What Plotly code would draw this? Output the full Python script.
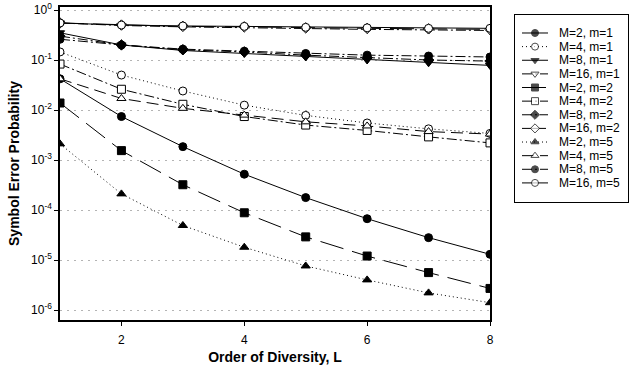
import plotly.graph_objects as go

# Order of diversity L
L = [1, 2, 3, 4, 5, 6, 7, 8]

# Symbol error probability for each (M, m) pair
ser_M2_m1 = [4.2e-2, 7.4e-3, 1.85e-3, 5.2e-4, 1.77e-4, 6.7e-5, 2.8e-5, 1.3e-5]
ser_M4_m1 = [0.145, 0.050, 0.024, 0.0125, 0.0078, 0.0055, 0.0042, 0.0034]
ser_M8_m1 = [0.35, 0.20, 0.155, 0.135, 0.115, 0.100, 0.088, 0.078]
ser_M16_m1 = [0.55, 0.49, 0.46, 0.44, 0.42, 0.41, 0.40, 0.39]
ser_M2_m2 = [1.38e-2, 1.54e-3, 3.2e-4, 8.8e-5, 2.9e-5, 1.2e-5, 5.6e-6, 2.7e-6]
ser_M4_m2 = [0.083, 0.026, 0.013, 0.0074, 0.0050, 0.0039, 0.0029, 0.0022]
ser_M8_m2 = [0.30, 0.20, 0.160, 0.145, 0.125, 0.112, 0.100, 0.095]
ser_M16_m2 = [0.55, 0.50, 0.47, 0.46, 0.44, 0.43, 0.42, 0.41]
ser_M2_m5 = [2.1e-3, 2.1e-4, 4.9e-5, 1.8e-5, 7.6e-6, 4.0e-6, 2.2e-6, 1.4e-6]
ser_M4_m5 = [0.042, 0.017, 0.0108, 0.0079, 0.0058, 0.0048, 0.0037, 0.0033]
ser_M8_m5 = [0.26, 0.20, 0.165, 0.150, 0.135, 0.125, 0.120, 0.115]
ser_M16_m5 = [0.55, 0.50, 0.48, 0.47, 0.45, 0.44, 0.43, 0.43]

names = ["M=2, m=1", "M=4, m=1", "M=8, m=1", "M=16, m=1",
         "M=2, m=2", "M=4, m=2", "M=8, m=2", "M=16, m=2",
         "M=2, m=5", "M=4, m=5", "M=8, m=5", "M=16, m=5"]
series = [ser_M2_m1, ser_M4_m1, ser_M8_m1, ser_M16_m1,
          ser_M2_m2, ser_M4_m2, ser_M8_m2, ser_M16_m2,
          ser_M2_m5, ser_M4_m5, ser_M8_m5, ser_M16_m5]

y_tickvals = [1e-6, 1e-5, 1e-4, 1e-3, 1e-2, 1e-1, 1e0]
y_ticktext = ["10<sup>-6</sup>", "10<sup>-5</sup>", "10<sup>-4</sup>", "10<sup>-3</sup>",
              "10<sup>-2</sup>", "10<sup>-1</sup>", "10<sup>0</sup>"]
x_tickvals = [2, 4, 6, 8]

DOT = "1px,3px"
DASHDOT = "10px,3px,2px,3px"
LONGDASH = "24px,9px"
DASH = "12px,6px"

# (symbol, filled, dash) for each series
styles = [
    ("circle", True, "solid"),
    ("circle", False, DOT),
    ("triangle-down", True, "solid"),
    ("triangle-down", False, DASHDOT),
    ("square", True, LONGDASH),
    ("square", False, DASHDOT),
    ("diamond", True, DASHDOT),
    ("diamond", False, LONGDASH),
    ("triangle-up", True, DOT),
    ("triangle-up", False, DASH),
    ("circle", True, DASHDOT),
    ("circle", False, "solid"),
]

FONT = "Liberation Sans, Arial, sans-serif"
W, H = 629, 373

fig = go.Figure()


def marker_style(symbol, filled, size):
    return dict(symbol=symbol, size=size,
                color="black" if filled else "white",
                line=dict(color="black", width=1))


for name, vals, (sym, filled, dash) in zip(names, series, styles):
    fig.add_trace(go.Scatter(
        x=L, y=vals, name=name, mode="lines+markers",
        line=dict(color="black", width=1, dash=dash),
        marker=marker_style(sym, filled, 8),
        showlegend=False, xaxis="x", yaxis="y",
    ))

# Legend key drawn on its own small axes
key_x = [0.062, 0.177, 0.292]
for i, (name, (sym, filled, dash)) in enumerate(zip(names, styles)):
    fig.add_trace(go.Scatter(
        x=key_x, y=[i, i, i], mode="lines+markers",
        line=dict(color="black", width=1, dash=dash),
        marker=dict(symbol=sym, size=[0, 7, 0],
                    color="black" if filled else "white",
                    line=dict(color="black", width=[0, 1, 0])),
        showlegend=False, hoverinfo="skip", xaxis="x2", yaxis="y2",
    ))
    fig.add_annotation(x=0.372, y=i, xref="x2", yref="y2", text=name,
                       showarrow=False, xanchor="left", yanchor="middle",
                       font=dict(family=FONT, size=12, color="black"))

fig.update_layout(
    width=W, height=H,
    margin=dict(l=0, r=0, t=0, b=0),
    paper_bgcolor="white", plot_bgcolor="white",
    font=dict(family=FONT, size=12, color="black"),
    showlegend=False,
    xaxis=dict(
        domain=[60 / W, 490 / W], range=[1, 8],
        tickvals=x_tickvals, ticks="outside", ticklen=4, tickcolor="black",
        ticklabelstandoff=4,
        showline=True, linecolor="black", linewidth=1.5, mirror=True,
        showgrid=False, zeroline=False, automargin=False,
        title=dict(text="Order of Diversity, L", standoff=6,
                   font=dict(family=FONT, size=14, weight="bold")),
        anchor="y",
    ),
    yaxis=dict(
        domain=[(H - 320) / H, (H - 7) / H], type="log", range=[-6.2, 0.06],
        tickvals=y_tickvals, ticktext=y_ticktext,
        ticks="outside", ticklen=4, tickcolor="black",
        showline=True, linecolor="black", linewidth=1.5, mirror=True,
        showgrid=True, gridcolor="#b4b4b4", griddash="2px,5px", gridwidth=1,
        zeroline=False, automargin=False,
        title=dict(text="Symbol Error Probability", standoff=8,
                   font=dict(family=FONT, size=14, weight="bold")),
        anchor="x",
    ),
    xaxis2=dict(
        domain=[515 / W, 628 / W], range=[0, 1], anchor="y2",
        showline=True, linecolor="black", linewidth=1, mirror=True,
        showgrid=False, zeroline=False, showticklabels=False, ticks="",
        fixedrange=True,
    ),
    yaxis2=dict(
        domain=[(H - 202) / H, (H - 15) / H], range=[12.4, -1.32], anchor="x2",
        showline=True, linecolor="black", linewidth=1, mirror=True,
        showgrid=False, zeroline=False, showticklabels=False, ticks="",
        fixedrange=True,
    ),
)

fig.write_html("out.html")
